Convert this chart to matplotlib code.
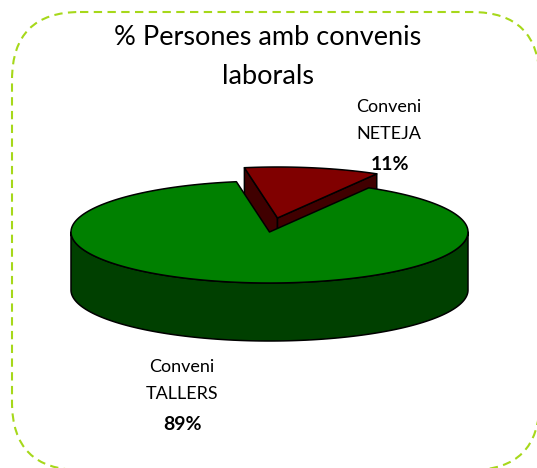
import numpy as np
import matplotlib
matplotlib.use("Agg")
import matplotlib.pyplot as plt
from matplotlib.patches import FancyBboxPatch, Polygon

plt.rcParams['font.family'] = ['Lato', 'DejaVu Sans']

title = "% Persones amb convenis\nlaborals"
categories = ["Conveni\nTALLERS", "Conveni\nNETEJA"]
values = [89, 11]
percent_labels = ["89%", "11%"]

START = 60.0
CX, CY, RX, RY = 269.5, 232.0, 198.5, 51.0
DEPTH = 58
OFFSET = (8, -14)

GREEN, GREEN_DARK = "#008000", "#004000"
RED, RED_DARK = "#800000", "#400000"


def arc(a0, a1, dx=0, dy=0):
    t = np.deg2rad(np.linspace(a0, a1, 200))
    return np.column_stack([CX + dx + RX*np.cos(t), CY + dy - RY*np.sin(t)])


def wedge(a0, a1, dx=0, dy=0):
    return np.vstack([[CX + dx, CY + dy], arc(a0, a1, dx, dy)])


def add(ax, pts, color, z):
    ax.add_patch(Polygon(pts, closed=True, fc=color, ec="black", lw=1.1, joinstyle="round", zorder=z))


fig = plt.figure(figsize=(5.37, 4.68), dpi=100)
ax = fig.add_axes([0, 0, 1, 1])
ax.set_xlim(0, 537)
ax.set_ylim(468, 0)
ax.axis("off")

# the frame's right and bottom edges fall just outside the picture
frame = FancyBboxPatch((12, 12), 527.5, 458, boxstyle="round,pad=0,rounding_size=68",
                       fc="white", ec="#A6D81A", lw=1.5, ls=(0, (4, 2.6)), zorder=0)
ax.add_patch(frame)

total = sum(values)
small = values[1] / total * 360
a0, a1 = START, START + small
dx, dy = OFFSET

# exploded slice walls go first, the big slice covers what it has to
corner_l = arc(a1, a1, dx, dy)[0]
corner_r = arc(a0, a0, dx, dy)[0]
apex = np.array([CX + dx, CY + dy])
down = np.array([0, DEPTH])
add(ax, [corner_l, apex, apex + down, corner_l + down], RED_DARK, 2)
add(ax, [corner_r, apex, apex + down, corner_r + down], RED_DARK, 2)
add(ax, wedge(a0, a1, dx, dy), RED, 3)

# big slice side, only the front half of the rim shows
rim = arc(180, 360)
add(ax, np.vstack([rim, rim[::-1] + down]), GREEN_DARK, 4)
add(ax, wedge(a1, START + 360), GREEN, 5)

ax.text(268, 57, title, ha="center", va="center", fontsize=19.5, color="black",
        linespacing=1.68, multialignment="center", zorder=6)

ax.text(421, 120.5, categories[1], ha="right", va="center", fontsize=13, color="black",
        linespacing=1.9, multialignment="right", zorder=6)
ax.text(390, 164, percent_labels[1], ha="center", va="center", fontsize=14, fontweight="bold", zorder=6)
ax.text(182, 380.5, categories[0], ha="center", va="center", fontsize=13, color="black",
        linespacing=1.9, multialignment="center", zorder=6)
ax.text(182, 425, percent_labels[0], ha="center", va="center", fontsize=14, fontweight="bold", zorder=6)

fig.savefig("out.png", dpi=100)
